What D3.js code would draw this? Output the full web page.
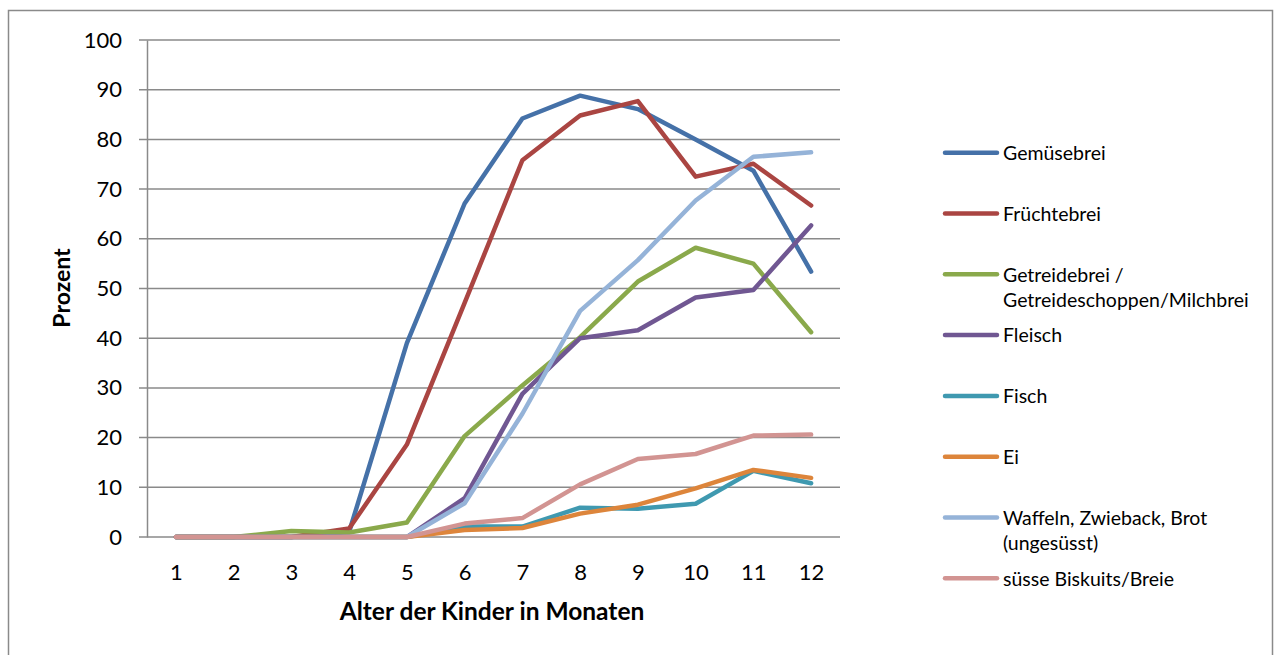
<!DOCTYPE html>
<html>
<head>
<meta charset="utf-8">
<script src="https://cdn.jsdelivr.net/npm/d3@7"></script>
<style>
	body { margin: 0; background: #fff; }
	svg { display: block; font-family: Lato, 'Open Sans', sans-serif; }
</style>
</head>
<body>
<div id="chart"></div>
<script>
// Werte (Prozent)
var months = ['1', '2', '3', '4', '5', '6', '7', '8', '9', '10', '11', '12'];
var gemuesebrei = [0, 0, 0, 1.0, 39.0, 67.1, 84.2, 88.8, 86.1, 80.0, 73.7, 53.4];
var fruechtebrei = [0, 0, 0, 1.7, 18.6, 47.1, 75.8, 84.8, 87.7, 72.5, 75.1, 66.7];
var getreidebrei = [0, 0, 1.2, 0.9, 2.9, 20.3, 30.5, 40.2, 51.4, 58.2, 55.0, 41.2];
var fleisch = [0, 0, 0, 0, 0, 7.8, 28.8, 40.0, 41.6, 48.2, 49.7, 62.7];
var fisch = [0, 0, 0, 0, 0, 2.1, 2.1, 5.9, 5.7, 6.7, 13.3, 10.8];
var ei = [0, 0, 0, 0, 0, 1.4, 1.8, 4.7, 6.5, 9.8, 13.5, 11.9];
var waffeln = [0, 0, 0, 0, 0, 6.8, 24.8, 45.5, 55.7, 67.7, 76.5, 77.4];
var biskuits = [0, 0, 0, 0, 0, 2.7, 3.8, 10.6, 15.7, 16.7, 20.4, 20.6];
var seriesNames = ['Gemüsebrei', 'Früchtebrei', 'Getreidebrei / Getreideschoppen/Milchbrei', 'Fleisch', 'Fisch', 'Ei', 'Waffeln, Zwieback, Brot (ungesüsst)', 'süsse Biskuits/Breie'];
var legendLines = [['Gemüsebrei'], ['Früchtebrei'], ['Getreidebrei /', 'Getreideschoppen/Milchbrei'], ['Fleisch'], ['Fisch'], ['Ei'], ['Waffeln, Zwieback, Brot', '(ungesüsst)'], ['süsse Biskuits/Breie']];
var yTicks = [0, 10, 20, 30, 40, 50, 60, 70, 80, 90, 100];
var xTitle = 'Alter der Kinder in Monaten';
var yTitle = 'Prozent';

var COLORS = ['#4571a8', '#aa4542', '#8aa94b', '#705792', '#3f99b0', '#dd853b', '#95b3d8', '#d29492'];
var values = [gemuesebrei, fruechtebrei, getreidebrei, fleisch, fisch, ei, waffeln, biskuits];

const PLOT = { LEFT: 147, RIGHT: 840, TOP: 40, BOTTOM: 537 };
const GRID_COLOR = '#8a8a8a';

var svg = d3.select('#chart').append('svg')
	.attr('width', 1275)
	.attr('height', 655);

// Rahmen
svg.append('rect')
	.attr('x', 8.5)
	.attr('y', 10.5)
	.attr('width', 1264)
	.attr('height', 700)
	.attr('fill', 'none')
	.style('stroke', '#8a8a8a')
	.style('stroke-width', 1.5);

var x = d3.scalePoint().domain(months).range([PLOT.LEFT, PLOT.RIGHT]).padding(0.5);
var y = d3.scaleLinear().domain([0, 100]).range([PLOT.BOTTOM, PLOT.TOP]);

// Gitternetz
svg.append('g')
	.attr('class', 'grid')
	.selectAll('line')
	.data(yTicks)
	.enter().append('line')
	.attr('x1', PLOT.LEFT - 8)
	.attr('x2', PLOT.RIGHT)
	.attr('y1', function (d) { return y(d); })
	.attr('y2', function (d) { return y(d); })
	.style('stroke', GRID_COLOR)
	.style('stroke-width', 1.5);

var yAxis = d3.axisLeft(y).tickValues(yTicks).tickSize(0).tickPadding(25);
var yG = svg.append('g')
	.attr('class', 'y axis')
	.attr('transform', 'translate(' + PLOT.LEFT + ',0)')
	.call(yAxis);
yG.select('.domain').style('stroke', GRID_COLOR).style('stroke-width', 1.5);
yG.selectAll('text')
	.attr('fill', '#000')
	.style('font-size', '22px')
	.style('font-family', 'Lato, sans-serif');

var xAxis = d3.axisBottom(x).tickSize(0).tickPadding(27);
var xG = svg.append('g')
	.attr('class', 'x axis')
	.attr('transform', 'translate(0,' + PLOT.BOTTOM + ')')
	.call(xAxis);
xG.select('.domain').remove();
xG.selectAll('text')
	.attr('fill', '#000')
	.style('font-size', '22px')
	.style('font-family', 'Lato, sans-serif');

// Linien
var line = d3.line()
	.x(function (d, i) { return x(months[i]); })
	.y(function (d) { return y(d); });

svg.append('g')
	.attr('class', 'series')
	.selectAll('path')
	.data(values)
	.enter().append('path')
	.attr('d', line)
	.attr('fill', 'none')
	.style('stroke', function (d, i) { return COLORS[i]; })
	.style('stroke-width', 4.5)
	.style('stroke-linejoin', 'round')
	.style('stroke-linecap', 'round');

// Achsentitel
svg.append('text')
	.attr('x', 492)
	.attr('y', 620)
	.attr('text-anchor', 'middle')
	.style('font-size', '24.5px')
	.style('font-weight', 'bold')
	.text(xTitle);

svg.append('text')
	.attr('transform', 'translate(70,288) rotate(-90)')
	.attr('text-anchor', 'middle')
	.style('font-size', '23px')
	.style('font-weight', 'bold')
	.text(yTitle);

// Legende
var legend = svg.append('g').attr('class', 'legend');
var items = legend.selectAll('g')
	.data(seriesNames)
	.enter().append('g')
	.attr('transform', function (d, i) { return 'translate(0,' + (152.7 + i * 60.8) + ')'; });

items.append('line')
	.attr('x1', 945)
	.attr('x2', 997)
	.attr('y1', 0)
	.attr('y2', 0)
	.style('stroke', function (d, i) { return COLORS[i]; })
	.style('stroke-width', 4.5)
	.style('stroke-linecap', 'round');

items.append('text')
	.attr('x', 1003)
	.attr('y', 7.3)
	.style('font-size', '19.5px')
	.attr('fill', '#000')
	.each(function (d, i) {
		var t = d3.select(this);
		legendLines[i].forEach(function (s, j) {
			t.append('tspan').attr('x', 1003).attr('dy', j === 0 ? 0 : 25).text(s);
		});
	});
</script>
</body>
</html>
